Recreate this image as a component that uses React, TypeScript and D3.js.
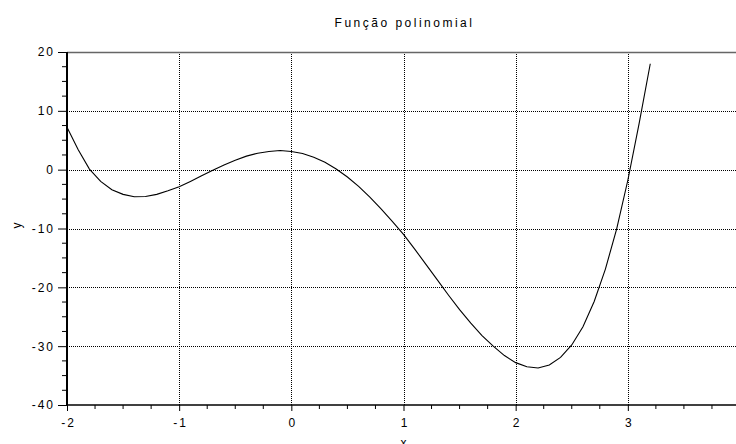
import { FC, useCallback, useEffect, useRef } from "react"
import * as d3 from 'd3';

const xs = [
    -2.0, -1.9, -1.8, -1.7, -1.6, -1.5, -1.4, -1.3, -1.2, -1.1,
    -1.0, -0.9, -0.8, -0.7, -0.6, -0.5, -0.4, -0.3, -0.2, -0.1,
    0.0, 0.1, 0.2, 0.3, 0.4, 0.5, 0.6, 0.7, 0.8, 0.9,
    1.0, 1.1, 1.2, 1.3, 1.4, 1.5, 1.6, 1.7, 1.8, 1.9,
    2.0, 2.1, 2.2, 2.3, 2.4, 2.5, 2.6, 2.7, 2.8, 2.9,
    3.0, 3.1, 3.2
]
const ys = [
    7.2, 3.4, 0.1, -2.0, -3.4, -4.2, -4.6, -4.55, -4.2, -3.6,
    -2.9, -2.0, -1.05, -0.1, 0.8, 1.6, 2.3, 2.8, 3.1, 3.25,
    3.1, 2.75, 2.1, 1.25, 0.1, -1.25, -2.85, -4.65, -6.65, -8.8,
    -11.0, -13.5, -16.1, -18.7, -21.3, -23.8, -26.1, -28.2, -30.0, -31.6,
    -32.8, -33.5, -33.7, -33.2, -31.9, -29.8, -26.7, -22.4, -16.9, -10.1,
    -1.8, 7.8, 18.0
]
const xTicks = [-2, -1, 0, 1, 2, 3, 4]
const yTicks = [-40, -30, -20, -10, 0, 10, 20]
const title = "Função polinomial"
const xLabel = "x"
const yLabel = "y"

const App: FC = () => {
    const svgRef = useRef<SVGSVGElement>(null);
    const width = 736
    const height = 444

    const draw = useCallback(() => {
        const svg = d3.select(svgRef.current)
            .attr("width", width)
            .attr("height", height)
            .style('background', '#fff')
        svg.selectAll("*").remove();

        const left = 67, right = 740, top = 52, bottom = 405
        const xScale = d3.scaleLinear().domain([-2, 4]).range([left, right])
        const yScale = d3.scaleLinear().domain([-40, 20]).range([bottom, top])
        const font = "'Liberation Sans', Arial, Helvetica, sans-serif"

        //grid
        const grid = svg.append('g')
            .attr('stroke', '#000')
            .attr('stroke-width', 1)
            .attr('stroke-dasharray', '1,1')
        grid.selectAll('.vg')
            .data(xTicks.slice(1))
            .join('line')
            .attr('x1', d => Math.round(xScale(d)) + 0.5)
            .attr('x2', d => Math.round(xScale(d)) + 0.5)
            .attr('y1', top)
            .attr('y2', bottom)
        grid.selectAll('.hg')
            .data(yTicks.slice(1, -1))
            .join('line')
            .attr('x1', left)
            .attr('x2', width)
            .attr('y1', d => Math.round(yScale(d)) + 0.5)
            .attr('y2', d => Math.round(yScale(d)) + 0.5)

        // top frame
        svg.append('line')
            .attr('x1', left).attr('x2', width)
            .attr('y1', top + 0.5).attr('y2', top + 0.5)
            .attr('stroke', '#666')
            .attr('stroke-width', 1.5)

        //axes
        const yMinor = d3.range(-40, 20.01, 2.5).filter(v => v % 10 !== 0)
        const xMinor = d3.range(-2, 4.01, 0.25).filter(v => v % 1 !== 0)

        const yAxis = d3.axisLeft(yScale)
            .tickValues(yTicks)
            .tickSize(9)
            .tickPadding(3)
            .tickFormat(d => `${d}`)
        const gy = svg.append('g')
            .attr('transform', `translate(${left},0)`)
            .call(yAxis)
        gy.select('.domain').remove()
        gy.selectAll('.minor')
            .data(yMinor)
            .join('line')
            .attr('x1', -5).attr('x2', 0)
            .attr('y1', d => yScale(d)).attr('y2', d => yScale(d))
            .attr('stroke', '#000')

        const xAxis = d3.axisBottom(xScale)
            .tickValues(xTicks)
            .tickSize(6)
            .tickPadding(7)
            .tickFormat(d => `${d}`)
        const gx = svg.append('g')
            .attr('transform', `translate(0,${bottom})`)
            .call(xAxis)
        gx.select('.domain').remove()
        gx.selectAll('.minor')
            .data(xMinor)
            .join('line')
            .attr('x1', d => xScale(d)).attr('x2', d => xScale(d))
            .attr('y1', 0).attr('y2', 4)
            .attr('stroke', '#000')

        svg.selectAll('.tick text')
            .attr('font-family', font)
            .attr('font-size', 12)
            .attr('letter-spacing', '2px')
            .attr('fill', '#000')
        gx.selectAll('.tick text').attr('dx', '1px')

        svg.append('line')
            .attr('x1', left).attr('x2', width)
            .attr('y1', bottom).attr('y2', bottom)
            .attr('stroke', '#000').attr('stroke-width', 1.5)
        svg.append('line')
            .attr('x1', left).attr('x2', left)
            .attr('y1', top).attr('y2', bottom)
            .attr('stroke', '#000').attr('stroke-width', 2)

        //curve
        const line = d3.line<number>()
            .x((_, i) => xScale(xs[i]))
            .y(d => yScale(d))
        svg.append('path')
            .datum(ys)
            .attr('d', line)
            .attr('fill', 'none')
            .attr('stroke', '#000')
            .attr('stroke-width', 1.1)

        //texts
        svg.append('text')
            .attr('x', (left + right) / 2 + 1)
            .attr('y', 27)
            .attr('text-anchor', 'middle')
            .attr('font-family', font)
            .attr('font-size', 12)
            .attr('letter-spacing', '2.5px')
            .text(title)
        svg.append('text')
            .attr('x', (left + right) / 2)
            .attr('y', 447)
            .attr('text-anchor', 'middle')
            .attr('font-family', font)
            .attr('font-size', 12)
            .text(xLabel)
        svg.append('text')
            .attr('transform', `translate(21,${(top + bottom) / 2 - 3}) rotate(-90)`)
            .attr('text-anchor', 'middle')
            .attr('font-family', font)
            .attr('font-size', 12)
            .text(yLabel)
    }, [])

    useEffect(() => {
        draw()
    }, [draw])

    return (
        <svg ref={svgRef} style={{ position: 'absolute', left: 0, top: 0 }}></svg>
    )
}

export default App
